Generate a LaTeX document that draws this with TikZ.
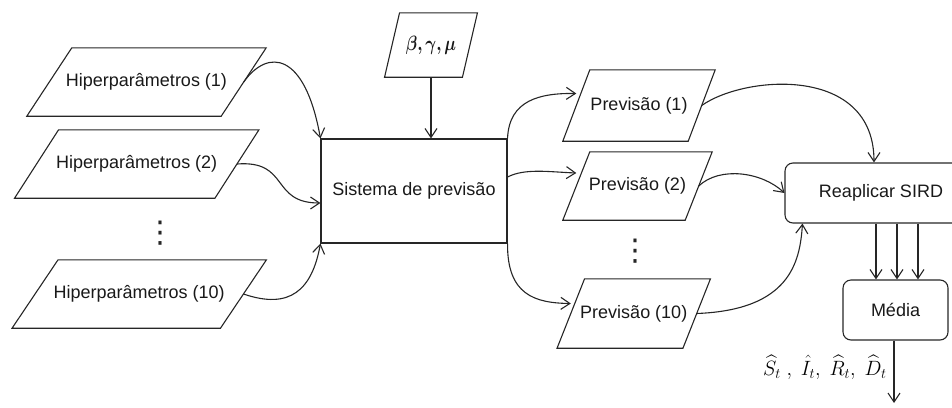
\RequirePackage{fix-cm}
\documentclass[tikz,border=0pt]{standalone}
\usepackage{amsmath}
\usepackage{bm}
\usepackage{graphicx}
\usepackage{fontspec}
\setmainfont{Liberation Sans}
\newfontfamily\dejavu{DejaVu Sans}
\usetikzlibrary{arrows.meta,calc}
\newcommand\pgdraw[2]{\draw[outline] ([xshift=#2]#1.north west) -- ([xshift=#2]#1.north east) -- ([xshift=-#2]#1.south east) -- ([xshift=-#2]#1.south west) -- cycle;}
\begin{document}
\begin{tikzpicture}[x=1pt,y=-1pt,
  font=\fontsize{18}{21}\selectfont,
  outline/.style={draw=black!85, line width=1.1pt},
  pbox/.style={inner sep=0pt, text=black!90},
  rbox/.style={draw=black!85, line width=1.1pt, rounded corners=8pt, inner sep=0pt, text=black!90},
  arr/.style={draw=black!85, line width=1.1pt, -{Straight Barb[length=9pt,width=12pt]}},
  dotsn/.style={inner sep=0pt, text=black!85, font=\dejavu\fontsize{30}{30}\selectfont}]
\useasboundingbox (0,0) rectangle (952,407);

% input parallelograms
\node[pbox, minimum width=194pt, minimum height=68pt] (h1) at (146.5,82) {Hiperparâmetros (1)};
\pgdraw{h1}{22.5pt}
\node[pbox, minimum width=200pt, minimum height=68pt] (h2) at (136.75,164) {Hiperparâmetros (2)};
\pgdraw{h2}{22pt}
\node[pbox, minimum width=208pt, minimum height=68pt] (h10) at (139.25,294) {Hiperparâmetros (10)};
\pgdraw{h10}{23pt}
\node[dotsn] (d1) at (160,233) {⋮};

% parameters
\node[pbox, minimum width=77.5pt, minimum height=64pt] (par) at (431,45) {\scalebox{0.92}[1.15]{$\boldsymbol{\beta{,}\,\gamma{,}\,\mu}$}};
\pgdraw{par}{7.5pt}

% system
\node[draw=black!85, line width=1.1pt, minimum width=186pt, minimum height=104pt, inner sep=0pt, text=black!90] (sis) at (414,191) {Sistema de previsão};

% forecasts
\node[pbox, minimum width=125pt, minimum height=71pt] (p1) at (639,105.5) {Previsão (1)};
\pgdraw{p1}{13.5pt}
\node[pbox, minimum width=122pt, minimum height=68pt] (p2) at (637.5,186) {Previsão (2)};
\pgdraw{p2}{13.5pt}
\node[pbox, minimum width=125.5pt, minimum height=69pt] (p10) at (633.75,313.5) {Previsão (10)};
\pgdraw{p10}{13.75pt}
\node[dotsn] (d2) at (635,251) {⋮};

% right boxes
\node[rbox, minimum width=192pt, minimum height=60pt] (rea) at (881,193) {Reaplicar SIRD};
\node[rbox, minimum width=105pt, minimum height=60pt] (med) at (895.5,310) {Média};
\coordinate (out) at (894,403);
\node[inner sep=0pt, anchor=base west] (lbl) at (763,375) {\scalebox{1.12}[1.15]{$\widehat{S}_t\ ,\ \hat{I}_{t},\ \widehat{R}_{t},\ \widehat{D}_t$}};

% connectors
\draw[arr] (h1.east) .. controls (268,48) and (305,52) .. (sis.north west);
\draw[arr] (h2.east) .. controls (290,160) and (270,203) .. ([yshift=-12pt]sis.west);
\draw[arr] (h10.east) .. controls (290,310) and (312,290) .. (sis.south west);
\draw[arr] (par.south) -- (par.south |- sis.north);

\draw[arr] (sis.north east) .. controls (509,100) and (540,93) .. ([yshift=12pt]p1.west);
\draw[arr] ([yshift=14pt]sis.east) .. controls (525,168) and (550,172) .. ([yshift=13pt]p2.west);
\draw[arr] (sis.south east) .. controls (507,295) and (535,303) .. ([yshift=10pt]p10.west);

\draw[arr] (p1.east) .. controls (745,75) and (874,65) .. ([xshift=-7pt]rea.north);
\draw[arr] (p2.east) .. controls (720,166) and (762,172) .. (rea.west);
\draw[arr] (p10.east) .. controls (790,310) and (800,262) .. ([xshift=18pt]rea.south west);

\draw[arr] ([xshift=-19.5pt]med.north |- rea.south) -- ([xshift=-19.5pt]med.north);
\draw[arr] ([xshift=1.5pt]med.north |- rea.south) -- ([xshift=1.5pt]med.north);
\draw[arr] ([xshift=22.5pt]med.north |- rea.south) -- ([xshift=22.5pt]med.north);
\draw[arr] (med.south -| out) -- (out);
\end{tikzpicture}
\end{document}
